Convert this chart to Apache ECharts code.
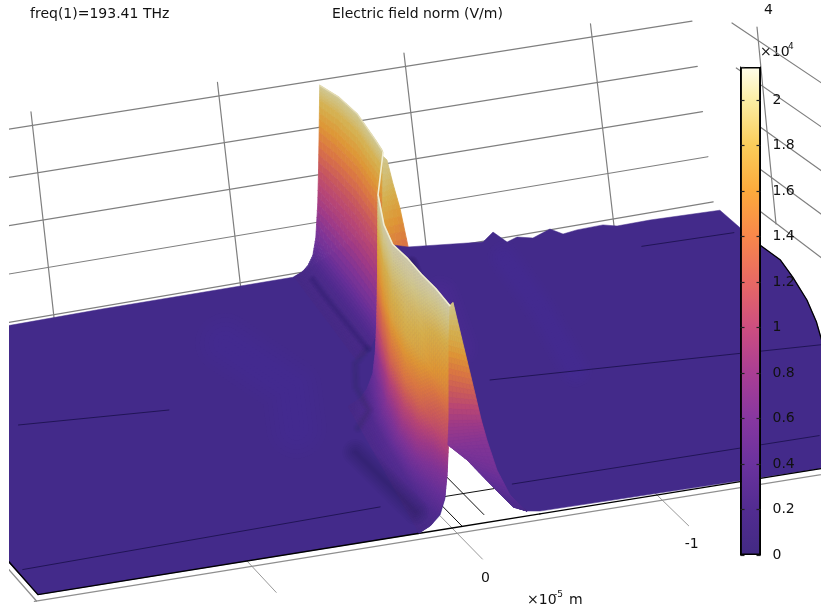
<!DOCTYPE html>
<html><head><meta charset="utf-8">
<style>html,body{margin:0;padding:0;background:#fff}#c{width:821px;height:607px}</style>
<script src="https://cdn.jsdelivr.net/npm/echarts@6/dist/echarts.min.js"></script>
</head><body><div id="c"></div>
<script>
// ---- Data. s = y position (1e-5 m), t = fraction across the domain, E = field norm (1e4 V/m)
const yTicks = [1, 0, -1];
const wallYTicks = [1, 0, -1, -2];
const wallLevels = [0, 1, 2, 3, 4];
const colorMax = 2.145;
const cmapV = [0, .2, .4, .6, .8, 1, 1.2, 1.4, 1.6, 1.8, 2, 2.145];
const cmapC = [[66,42,131],[82,44,145],[107,50,158],[135,55,160],[170,62,148],[205,78,128],[232,105,100],[248,135,75],[252,170,60],[250,205,90],[252,238,165],[255,253,235]];

// rear boundary of the domain
const backS = [2.02, 1.063, .6, .092, -.383, -.45, -.7, -.971, -1.355, -1.406, -1.478, -1.529, -1.61, -1.697, -1.764, -1.835, -1.968, -2.04, -2.209, -2.566];
const backE = [-.06, -.04, -.02, -.01, 0, .06, .3, .133, .059, .15, .017, .055, .017, .086, .009, .03, .04, .004, .013, 0];
// curved right boundary
const arcS = [-2.572, -2.589, -2.561, -2.513, -2.45, -2.389, -2.267, -2.1, -1.8];
const arcT = [.851, .783, .714, .622, .536, .469, .339, .15, 0];
// front boundary, raised where the field peaks
const frontS = [-.429, -.366, -.298, -.2, -.073, .0195, .024, .034, .058, .107, .166, 2.02];
const frontE = [.026, .046, .105, .325, .62, .79, .55, .29, .14, .05, 0, 0];

// front lobe: crest along t, then shared cross-profile
const faceT = [.5, .46, .4, .3, .2, .1, 0];
const faceCrestS = [-.215, -.197, -.17, -.125, -.08, -.035, .01];
const faceCrestE = [2.09, 1.88, 1.82, 1.91, 1.97, 2.05, 2.1];
const faceLift = [0, .15, .35, .45, .35, .15, 0];
const faceFrac = [1, .9, .78, .6, .48, .36, .24, .14, .07, .03, 0];
const faceDs = [0, .001, .002, .003, .005, .008, .014, .026, .055, .09, .15];
const faceC = [2.1, 1.95, 1.72, 1.48, 1.2, .95, .62, .4, .22, .1, .05];

// rear lobe
const rearT = [1, .9, .8, .7, .664];
const rearCrestS = [-.52, -.493, -.467, -.44, -.431];
const rearCrestE = [2.04, 2.15, 2.2, 2.15, 2.12];
const rearFrac = [1, .92, .75, .55, .37, .19, .1, .05, .02, 0];
const rearDs = [0, .001, .003, .006, .01, .02, .035, .06, .09, .13];
const rearC = [2.05, 1.85, 1.52, 1.12, .85, .5, .25, .12, .08, .05];

// right flank of the rear lobe (t = 0.58)
const flankT = .58;
const flankOuterS = [-.354, -.384, -.42, -.46, -.48];
const flankOuterE = [2.23, 1.98, 1.71, 1.31, 1.15];
const flankOuterC = [2.0, 1.85, 1.65, 1.35, 1.2];
const flankInnerS = [-.32, -.32, -.32, -.32, -.32];
const flankInnerE = [2.3, 1.95, 1.7, 1.3, 1.0];
const flankInnerC = [2.05, 1.9, 1.75, 1.5, 1.3];

// falling side of the front lobe
const fallLeftS = [.0098, .015, .015, .015, .02, -.073, -.2, -.298, -.366];
const fallLeftE = [2.1, 1.78, 1.4, 1.02, .79, .62, .325, .105, .046];
const fallRightS = [-.062, -.111, -.16, -.2, -.228, -.277, -.341, -.341, -.366];
const fallRightE = [2.01, 1.6, 1.19, .85, .65, .35, .093, .09, .046];
const fallRightT = [.05, .05, .05, .05, .05, .05, .05, 0, 0];
const fallC = [2.0, 1.75, 1.3, .85, .65, .5, .3, .15, .05];

// thin mesh edges seen on the plane: [s, t] pairs
const edgeA = [[1.446, .622], [.727, .59]];
const edgeB = [[1.99, .099], [.217, .118]];
const edgeC = [[-.791, .514], [-2.38, .45]];
const edgeD = [[-.438, .124], [-1.94, .121]];
const edgeE = [[-2.054, .913], [-2.519, .91]];
// darker creases and lighter streaks on the plane
const creaseFoot = [[.096, .33], [.09, .2], [.0856, .08]];
const creaseRear = [[-.46, .98], [-.439, .906], [-.397, .698]];
const creaseBump = [[-.397, .698], [-.28, .651], [-.181, .565], [-.141, .475], [-.016, .416]];
const creaseRim = [[-.97, .985], [-.93, .93]];
const streakRight = [[-1.4, .95], [-1.33, .75], [-1.2, .5]];
const streakRight2 = [[-.95, .85], [-.8, .65]];
const streakLeft = [[.2, .8], [.1, .6], [.25, .45]];

// black mesh lines below the raised front edge
const floorA = [[-.19, .03], [-.19, .19]];
const floorB = [[-.05, 0], [-.05, .09]];
const floorC = [[-.1, .118], [-.34, .118]];

// ---- Projection of the scene into the view plane
const P = (s, t, e) => [452 - 234 * t - s * (205 - 9.4 * t), 528 - 239 * t + s * (33 - 2.3 * t) - (e || 0) * (106 - 14 * t)];
const wallP = (y, k) => { const u = 1 - y; return [32.5 + 186.5 * u + 5.3 * k, 125.5 - 29.5 * u + (47.3 - .6 * u) * k]; };
const sideP = (a, k) => [732 + 4.3 * k + 89 * a, 23 + 45 * k + (.67 + .022 * k) * 89 * a];

function cmap(v) {
  v = Math.max(0, Math.min(colorMax, v));
  let i = 0; while (i < cmapV.length - 2 && v > cmapV[i + 1]) i++;
  const f = (v - cmapV[i]) / (cmapV[i + 1] - cmapV[i]);
  return cmapC[i].map((c, k) => c + (cmapC[i + 1][k] - c) * f);
}
function surf(v) {
  const shade = 1 - .12 * Math.min(1, v / 1.2) - .07 * Math.max(0, (v - 1.6) / .5);
  const c = cmap(v).map(x => Math.round(x * shade));
  return `rgb(${c[0]},${c[1]},${c[2]})`;
}
const lifted = (c, g) => c + g * 1.5 * (c / (c + .3)) * (1 - (c / 2.1) * (c / 2.1));
const prims = [];
const line = (pts, stroke, lw, extra) => prims.push(Object.assign({ pts, stroke, lw }, extra || {}));
const soft = (l, rgb, a, w) => { [1, .85, .7, .55, .4, .25, .12].forEach(f => line(l.map(q => P(q[0], q[1])), `rgba(${rgb},${a})`, w * f)); };
const mix = (a, b, f) => a + (b - a) * f;
function mesh(nodes, sub) { // nodes[col][row] = [s,t,e,c]
  for (let i = 0; i < nodes.length - 1; i++) for (let j = 0; j < nodes[0].length - 1; j++)
    for (let a = 0; a < sub; a++) for (let b = 0; b < sub; b++) {
      const at = (u, v) => [0, 1, 2, 3].map(k => mix(mix(nodes[i][j][k], nodes[i + 1][j][k], u), mix(nodes[i][j + 1][k], nodes[i + 1][j + 1][k], u), v));
      const q = [at(a / sub, b / sub), at((a + 1) / sub, b / sub), at((a + 1) / sub, (b + 1) / sub), at(a / sub, (b + 1) / sub)];
      const cm = q.reduce((x, n) => x + n[3], 0) / 4, col = surf(cm);
      prims.push({ pts: q.map(n => P(n[0], n[1], n[2])), fill: col, stroke: col, lw: .8 });
    }
}
// back wall and side wall
const wallGray = '#7f7f7f';
wallLevels.forEach(k => line([wallP(1.3, k), wallP(-2.536, k)], wallGray, 1.2));
wallYTicks.forEach(y => line([wallP(y, -.29), wallP(y, 4.6)], wallGray, 1.2));
wallLevels.forEach(k => line([sideP(0, k), sideP(1.1, k)], wallGray, 1.2));
line([[757, 27], [776, 224]], wallGray, 1.2);
// floor ticks, double edge, lines under the surface
yTicks.forEach(s => {
  line([P(s, .05), P(s, -.13)], '#9a9a9a', 1);
  const q = P(s, -.13);
  if (s <= 0) prims.push({ pts: [[q[0] + 3, q[1] + 19]], text: String(s) });
});
line([P(2.06, -.022), P(-1.85, -.022)], '#8f8f8f', 1.3);
line([P(2.05, -.022), P(2.05, .2)], '#8f8f8f', 1.3);
[floorA, floorB, floorC].forEach(l => line(l.map(q => P(q[0], q[1])), '#111', 1));
line([P(.166, 0), P(-.429, 0)], '#000', 1.4);
// flank behind plane
mesh([
  flankInnerS.map((s, r) => [s, flankT, flankInnerE[r], flankInnerC[r]]),
  flankOuterS.map((s, r) => [s, flankT, flankOuterE[r], flankOuterC[r]])
], 5);
// plane
const outline = [];
backS.forEach((s, i) => outline.push(P(s, 1, backE[i])));
arcS.forEach((s, i) => outline.push(P(s, arcT[i])));
frontS.forEach((s, i) => outline.push(P(s, 0, frontE[i])));
prims.push({ pts: outline, fill: '#432a8a', stroke: '#432a8a', lw: .5 });
soft(streakRight, '92,50,175', .035, 34);
soft(streakRight2, '92,50,175', .04, 40);
soft(streakLeft, '92,50,175', .035, 60);
soft(creaseRim, '38,22,84', .1, 14);
// thin edges
[edgeA, edgeB, edgeC, edgeD, edgeE].forEach(l => line(l.map(q => P(q[0], q[1])), '#1d1250', .9));
// plane borders
line([P(2.02, .2), P(2.02, 0), P(.166, 0)], '#000', 1.4);
line([P(-.429, 0), P(-1.8, 0)], '#000', 1.4);
line(arcS.slice(0, 7).map((s, i) => P(s, arcT[i])), '#000', 1.3);
// rear lobe
mesh(rearT.map((t, i) => rearFrac.map((f, r) => [rearCrestS[i] + rearDs[r], t, rearCrestE[i] * f, rearC[r]])), 5);
line(rearT.map((t, i) => P(rearCrestS[i], t, rearCrestE[i])), '#e4dcb4', 1.4);
soft(creaseRear, '38,22,84', .03, 9);
// front lobe
mesh(faceT.map((t, i) => faceFrac.map((f, r) => [faceCrestS[i] + faceDs[r], t, faceCrestE[i] * f, lifted(faceC[r], faceLift[i])])), 7);
soft(creaseBump, '38,22,84', .025, 10);
soft(creaseFoot, '34,20,76', .045, 26);
// falling side
mesh([fallC.map((c, r) => [fallLeftS[r], 0, fallLeftE[r], c]),
      fallC.map((c, r) => [fallRightS[r], fallRightT[r], fallRightE[r], c])], 7);
// pale crest
line([P(-.24, .5, 2.51)].concat(faceT.map((t, i) => P(faceCrestS[i], t, faceCrestE[i]))), '#f1edd0', 1.6);

const view = (params, api) => {
  const p = prims[api.value(0)];
  const pts = p.pts.map(q => api.coord(q));
  if (p.text !== undefined) return { type: 'text', style: { text: p.text, x: pts[0][0], y: pts[0][1], fill: '#111', font: '14px "DejaVu Sans"', align: 'center', verticalAlign: 'middle' } };
  if (p.fill) return { type: 'polygon', shape: { points: pts }, style: { fill: p.fill, stroke: p.stroke, lineWidth: p.lw } };
  return { type: 'polyline', shape: { points: pts }, style: { fill: null, stroke: p.stroke, lineWidth: p.lw, lineCap: 'round', lineJoin: 'round' } };
};

const stops = cmapV.map((v, i) => ({ offset: 1 - v / colorMax, color: `rgb(${cmapC[i].join(',')})` }));
const label = (text, x, y, size) => ({ type: 'text', x, y, style: { text, fill: '#111', font: `${size || 14}px "DejaVu Sans"`, verticalAlign: 'middle' } });
const axisBar = pos => ({
  type: 'value', gridIndex: 1, min: 0, max: colorMax, interval: .2, position: pos, z: 6,
  splitLine: { show: false }, axisLine: { show: true, lineStyle: { color: '#000', width: 1 } },
  axisTick: { show: true, inside: true, length: 4, lineStyle: { color: '#222', width: 1.2 } },
  axisLabel: pos === 'right' ? { show: true, showMaxLabel: false, margin: 12, color: '#111', fontSize: 14, fontFamily: 'DejaVu Sans', formatter: v => String(+v.toFixed(1)) } : { show: false }
});

const chart = echarts.init(document.getElementById('c'), null, { renderer: 'canvas' });
chart.setOption({
  animation: false, backgroundColor: '#fff',
  grid: [{ left: 9, right: 0, top: 0, bottom: 0 }, { left: 740.5, width: 20, top: 67, height: 488 }],
  xAxis: [{ type: 'value', min: 9, max: 821, show: false, gridIndex: 0 }, { type: 'category', data: ['E'], show: false, gridIndex: 1 }],
  yAxis: [{ type: 'value', min: 0, max: 607, inverse: true, show: false, gridIndex: 0 }, axisBar('right'), axisBar('left')],
  series: [
    { type: 'custom', xAxisIndex: 0, yAxisIndex: 0, clip: true, silent: true, progressive: 0, renderItem: view, data: prims.map((_, i) => [i, 0]), z: 1 },
    { type: 'bar', xAxisIndex: 1, yAxisIndex: 1, barWidth: '100%', silent: true, data: [colorMax], z: 4,
      itemStyle: { borderColor: '#000', borderWidth: 1.4, color: { type: 'linear', x: 0, y: 0, x2: 0, y2: 1, colorStops: stops.slice().reverse() } } }
  ],
  graphic: { elements: [
    label('freq(1)=193.41 THz', 30, 14), label('Electric field norm (V/m)', 332, 14),
    label('4', 764, 10), label('×10', 760, 52), label('4', 788, 47, 9),
    label('×10', 527, 600), label('-5', 554, 595, 9), label('m', 569, 600),
    { type: 'line', shape: { x1: 63, y1: 546, x2: 33, y2: 551 }, style: { stroke: '#4ca844', lineWidth: 2.2 } },
    { type: 'polygon', shape: { points: [[26, 552], [37, 546], [38, 553]] }, style: { fill: '#4ca844' } },
    { type: 'line', shape: { x1: 63, y1: 546, x2: 60.5, y2: 516 }, style: { stroke: '#4d8cc4', lineWidth: 2.2 } },
    { type: 'polygon', shape: { points: [[60, 507], [56, 520], [65, 519]] }, style: { fill: '#4d8cc4' } },
    { type: 'circle', shape: { cx: 58, cy: 540, r: 4 }, style: { fill: '#d8185a' } },
    label('z', 55, 499, 13), label('x', 49, 535, 13), label('y', 12, 552, 14)
  ] }
});
</script></body></html>
